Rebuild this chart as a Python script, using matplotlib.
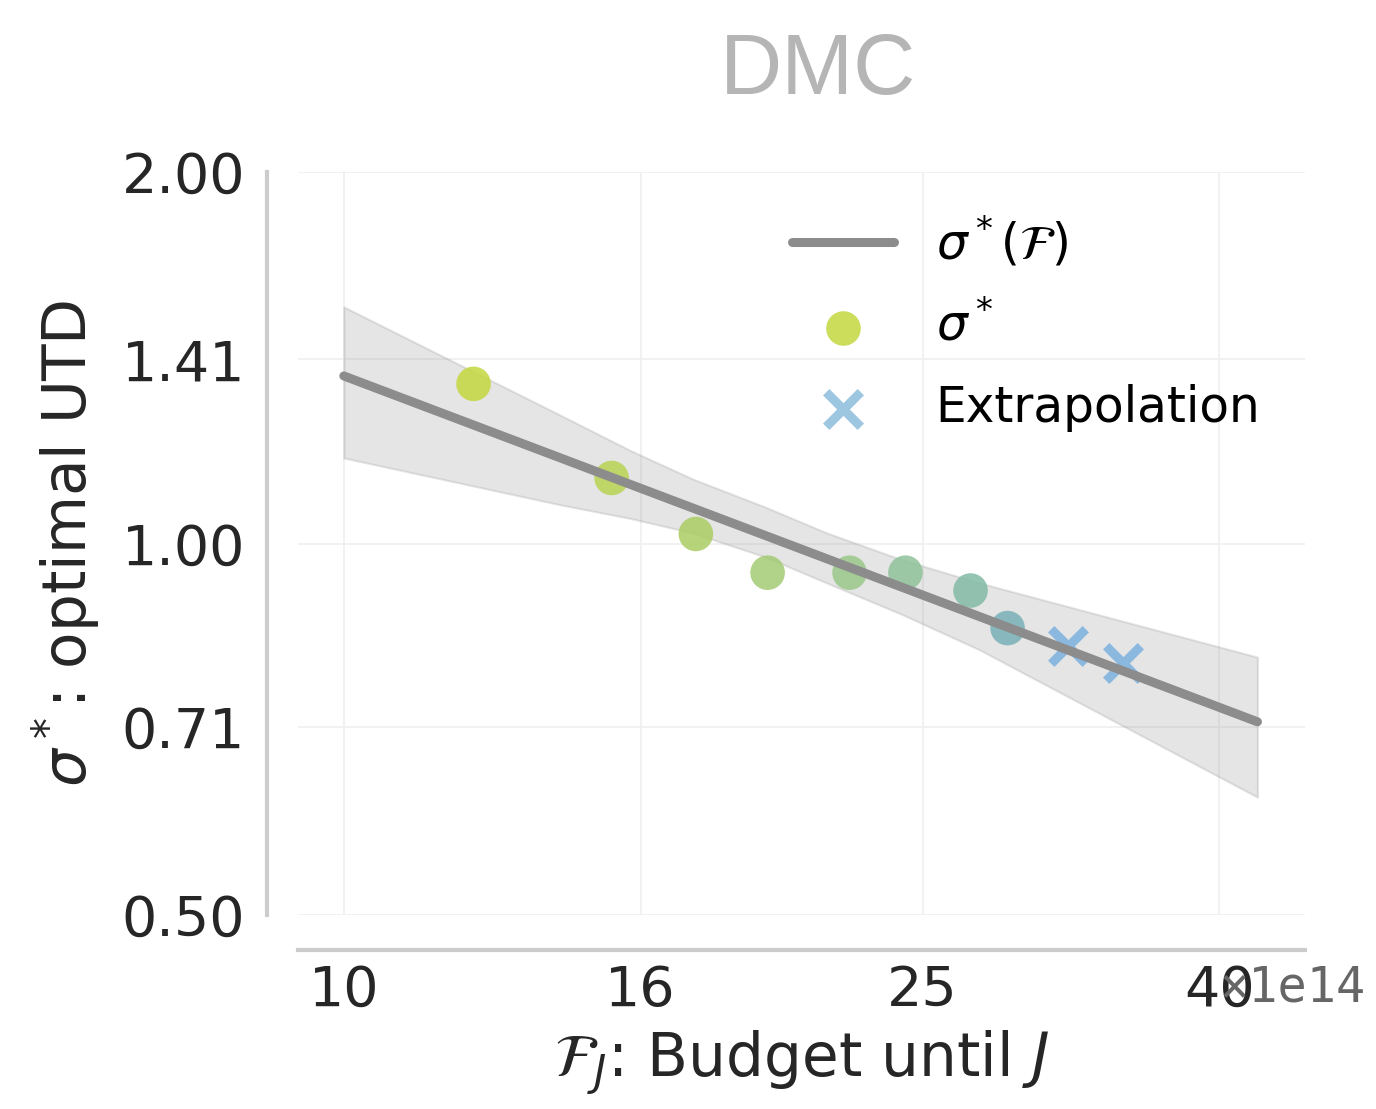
import numpy as np
import matplotlib
matplotlib.use('Agg')
import matplotlib.pyplot as plt

# budget values (units of 1e14) and optimal UTD
budget = [12.28, 15.28, 17.46, 19.56, 22.27, 24.33, 26.97, 28.60]
utd = [1.347, 1.130, 1.018, 0.947, 0.947, 0.947, 0.916, 0.854]
extrap_budget = [31.45, 34.36]
extrap_utd = [0.826, 0.800]

# fitted power law sigma*(F) endpoints
fit_budget = [10.0, 42.48]
fit_utd = [1.367, 0.717]

# confidence band
band_budget = [10.0, 14.08, 15.73, 17.37, 19.5, 21.48, 24.2, 27.36, 42.48]
band_upper = [1.555, 1.271, 1.190, 1.128, 1.070, 1.020, 0.970, 0.929, 0.809]
band_lower = [1.173, 1.075, 1.048, 1.020, 0.975, 0.929, 0.876, 0.820, 0.623]

xticks = [10, 16, 25, 40]
yticks = [0.50, 0.71, 1.00, 1.41, 2.00]

point_colors = ['#c3d73f', '#b8d352', '#abcd64', '#a3ca74', '#9ac78a',
                '#8fc29a', '#82bba5', '#78b1b6']

plt.rcParams['font.family'] = 'DejaVu Sans'
plt.rcParams['mathtext.fontset'] = 'dejavusans'

fig = plt.figure(figsize=(13.76, 11.09), dpi=100)
ax = fig.add_axes([298/1376, 1-915/1109, (1305-298)/1376, (915-172)/1109])

ax.set_xscale('log')
ax.set_yscale('log')

ax.fill_between(band_budget, band_lower, band_upper, color='#808080', alpha=0.2, lw=1.5)
ax.plot(fit_budget, fit_utd, color='#8c8c8c', lw=6.5, solid_capstyle='round',
        label=r'$\sigma^*(\mathcal{F})$', zorder=4)
ax.scatter(budget, utd, s=620, c=point_colors, alpha=0.85, lw=0, zorder=3)
ax.scatter(extrap_budget, extrap_utd, s=620, marker='x', color='#7cb0df', alpha=0.85,
           linewidths=6.5, zorder=3)

# legend proxies
ax.scatter([], [], s=620, color='#c3d73f', alpha=0.85, lw=0, label=r'$\sigma^*$')
ax.scatter([], [], s=620, marker='x', color='#8cbcdc', alpha=0.85, linewidths=6.5,
           label='Extrapolation')

ax.set_xlim(9.3, 45.8)
ax.set_ylim(0.5, 2.0)
ax.minorticks_off()
ax.set_xticks(xticks)
ax.set_xticklabels([str(t) for t in xticks])
ax.set_yticks(yticks)
ax.set_yticklabels(['%.2f' % t for t in yticks])
ax.tick_params(axis='both', length=0, labelsize=40, colors='#262626')
ax.tick_params(axis='y', pad=16)
ax.tick_params(axis='x', pad=10)

ax.grid(True, color='#efefef', lw=1.2)
ax.set_axisbelow(True)

for s in ['top', 'right']:
    ax.spines[s].set_visible(False)
ax.spines['left'].set_position(('outward', 22))
ax.spines['bottom'].set_position(('outward', 25))
for s in ['left', 'bottom']:
    ax.spines[s].set_color('#cccccc')
    ax.spines[s].set_linewidth(3)

ax.set_xlabel(r'$\mathcal{F}_J$: Budget until $J$', fontsize=43, color='#262626', labelpad=8)
ax.set_ylabel(r'$\sigma^*$: optimal UTD', fontsize=43, color='#262626', labelpad=14)

fig.text(818/1376, 1-72/1109, 'DMC', fontsize=62, color='#b5b5b5',
         family='Liberation Sans', ha='center', va='center')
fig.text(1366/1376, 1-988/1109, '\u00d71e14', fontsize=35, color='#666666',
         family='DejaVu Sans Mono', ha='right', va='center', zorder=0)

leg = ax.legend(loc='upper left', bbox_to_anchor=(768/1376, 1-190/1109),
                bbox_transform=fig.transFigure, frameon=False, fontsize=35,
                borderpad=0, handlelength=2.1, handletextpad=0.85, labelspacing=0.68)

fig.savefig('out.png', dpi=100)
